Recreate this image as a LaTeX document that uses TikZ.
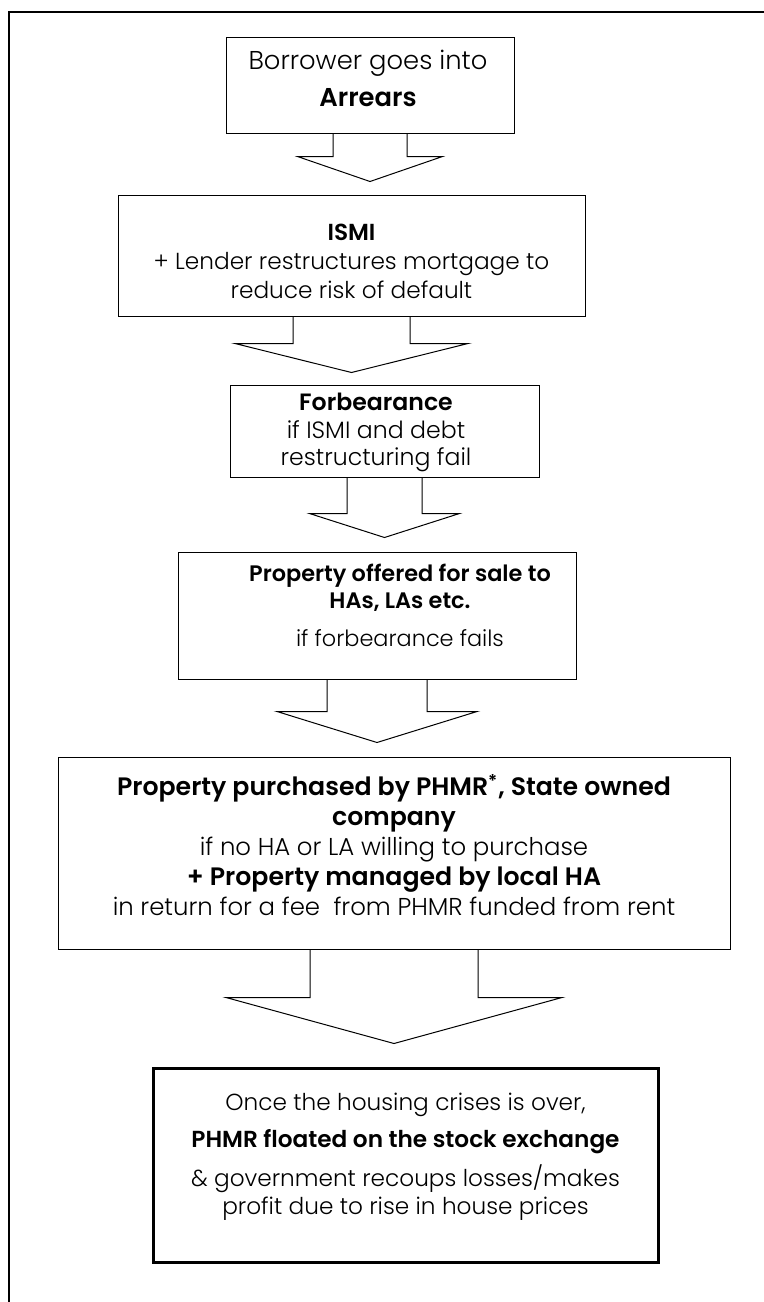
\documentclass[tikz,border=0pt]{standalone}
\usepackage{fontspec}
\setmainfont{Poppins}[UprightFont={Poppins Light}, BoldFont={Poppins SemiBold}]
\usetikzlibrary{positioning, calc}
\tikzset{
  box/.style={draw, line width=0.5pt, inner sep=0pt},
  lastbox/.style={draw, line width=1.5pt, inner sep=0pt},
  txt/.style={align=center, inner sep=0pt, font=\fontsize{11.6}{15}\selectfont},
  blkarr/.style={draw, line width=0.5pt, line join=miter},
  frm/.style={line width=1pt},
}
% block arrow: from box, to box, stem half width, head half width, stem length, gap
\newcommand{\blkarrow}[6]{%
  \draw[blkarr] ($(#1.south)+(-#3,0)$) -- ++(0,#5) -- ++(#3-#4,0)
    -- ($(#1.south |- #2.north)+(0,-#6)$) -- ($(#1.south)+(#4,#5)$)
    -- ($(#1.south)+(#3,#5)$) -- ($(#1.south)+(#3,0)$);}
\newcommand{\bigbf}[1]{{\fontsize{12.6}{15}\selectfont\bfseries #1}}

\begin{document}
\begin{tikzpicture}[x=0.5pt, y=-0.5pt]
  \useasboundingbox (0,0) rectangle (764,1302);
  % ---------- frame ----------
  \draw[frm] (9,1302) -- (9,12) -- (764,12);
  % ---------- boxes ----------
  \node[box, minimum width=144pt, minimum height=48pt] (b1) at (370,85) {};
  \node[box, minimum width=233.5pt, minimum height=60.5pt] (b2) at (351.5,255.5) {};
  \node[box, minimum width=154.5pt, minimum height=46pt] (b3) at (384.5,431) {};
  \node[box, minimum width=199pt, minimum height=63.5pt] (b4) at (377,615.5) {};
  \node[box, minimum width=336pt, minimum height=96pt] (b5) at (394,853) {};
  \node[lastbox, minimum width=252.5pt, minimum height=97pt] (b6) at (405.5,1165) {};
  % ---------- texts ----------
  \node[txt, font=\fontsize{12.9}{18.5}\selectfont] (t1) at ($(b1.center)+(-2,-6.5)$)
    {Borrower goes into\\\textbf{Arrears}};
  \node[txt, font=\fontsize{11.6}{14.5}\selectfont] (t2) at ($(b2.center)+(0,5.5)$)
    {\textbf{ISMI}\\+ Lender restructures mortgage to\\reduce risk of default};
  \node[txt, font=\fontsize{11.8}{13.8}\selectfont] (t3) at ($(b3.center)+(-8.5,1.5)$)
    {\textbf{Forbearance}\\if ISMI and debt\\restructuring fail};
  \node[txt, font=\fontsize{11.2}{13.5}\selectfont] (t4) at ($(b4.center)+(23,-10)$)
    {\textbf{Property offered for sale to}\\\textbf{HAs, LAs etc.}\\[5.5pt]if forbearance fails};
  \node[txt, font=\fontsize{12.2}{15}\selectfont] (t5) at ($(b5.center)+(0,-8)$)
    {\bigbf{Property purchased by PHMR\textsuperscript{*}, State owned}\\\bigbf{company}\\
     if no HA or LA willing to purchase\\\bigbf{+ Property managed by local HA}\\
     in return for a fee\ \ from PHMR funded from rent};
  \node[txt, font=\fontsize{11.6}{14}\selectfont] (t6) at ($(b6.center)+(0,-8.5)$)
    {Once the housing crises is over,\\[4.5pt]\textbf{PHMR floated on the stock exchange}\\[4.5pt]
     \& government recoups losses/makes\\profit due to rise in house prices};
  % ---------- arrows ----------
  \blkarrow{b1}{b2}{37}{72.5}{23}{13}
  \blkarrow{b2}{b3}{58.5}{116.5}{27}{12}
  \blkarrow{b3}{b4}{37.5}{75}{36}{14}
  \blkarrow{b4}{b5}{50}{100}{32}{14}
  \blkarrow{b5}{b6}{84}{168}{48}{23}
\end{tikzpicture}
\end{document}
